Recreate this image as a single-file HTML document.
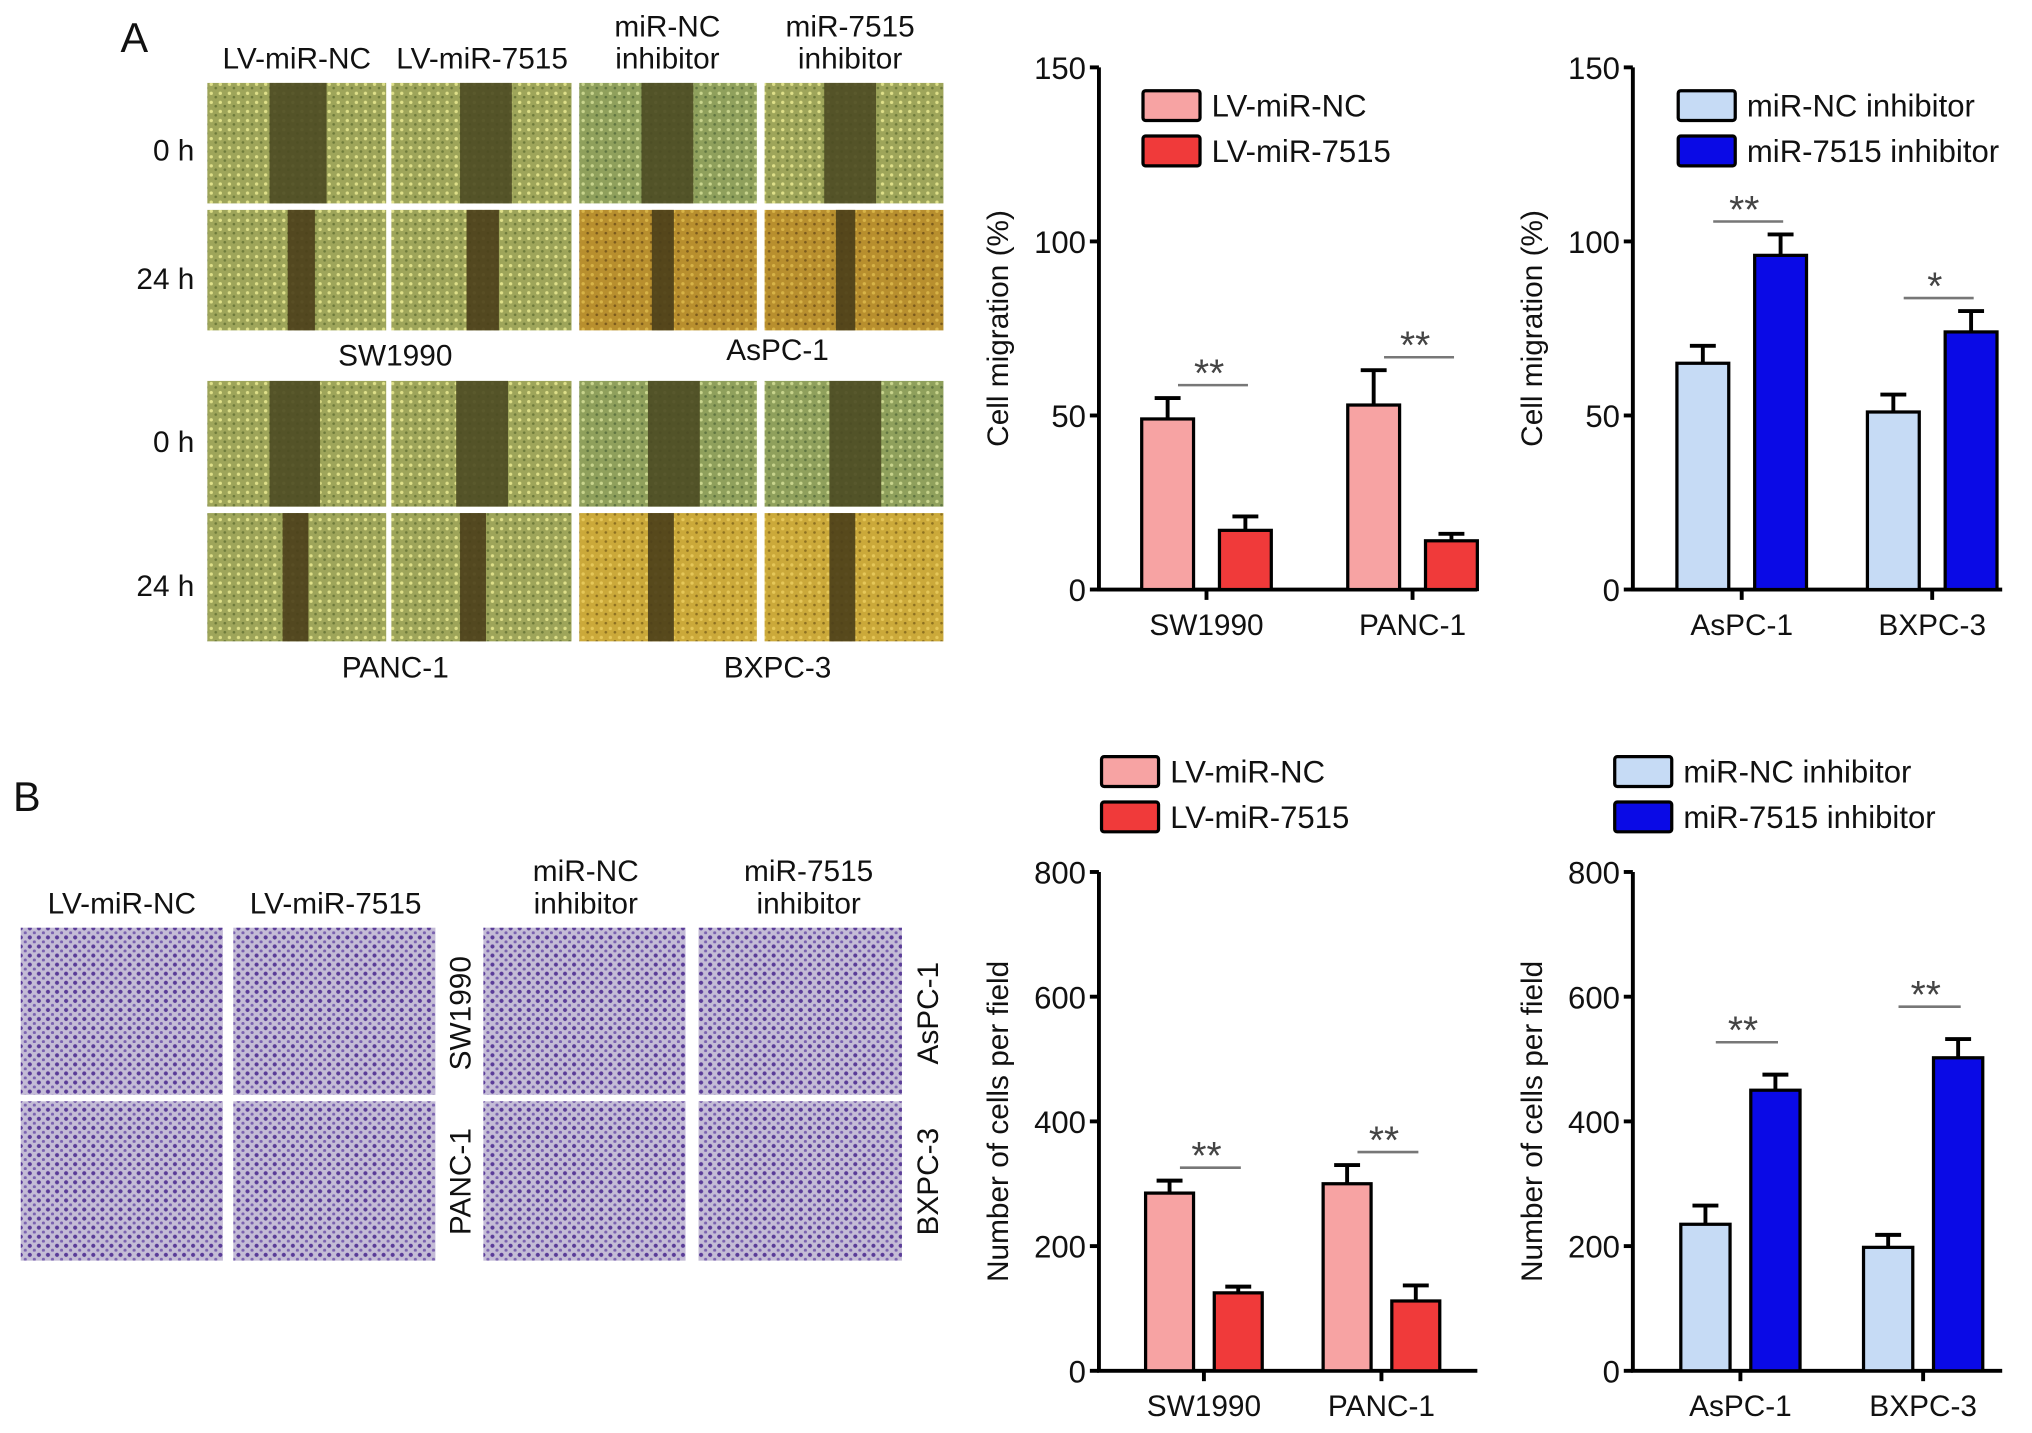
<!DOCTYPE html>
<html><head><meta charset="utf-8"><style>
html,body{margin:0;padding:0;background:#fff;}
svg{display:block;font-family:"Liberation Sans",Arial,sans-serif;}
</style></head><body>
<svg id="fig" width="2032" height="1433" viewBox="0 0 1568 1106" preserveAspectRatio="none" xmlns="http://www.w3.org/2000/svg">
<defs>
<pattern id="dotsG" width="7" height="7" patternUnits="userSpaceOnUse"><rect width="7" height="7" fill="#9ea55a"/><circle cx="2" cy="2" r="1.3" fill="#dfe08a"/><circle cx="5.5" cy="5" r="1" fill="#6d7a3a"/></pattern>
<pattern id="dotsGr" width="7" height="7" patternUnits="userSpaceOnUse"><rect width="7" height="7" fill="#8fa05c"/><circle cx="2" cy="2" r="1.3" fill="#c9d58e"/><circle cx="5.5" cy="5" r="1" fill="#5e7440"/></pattern>
<pattern id="dotsO" width="7" height="7" patternUnits="userSpaceOnUse"><rect width="7" height="7" fill="#b88f2e"/><circle cx="2" cy="2" r="1.3" fill="#d8b448"/><circle cx="5.5" cy="5" r="1" fill="#7a5a1c"/></pattern>
<pattern id="dotsY" width="7" height="7" patternUnits="userSpaceOnUse"><rect width="7" height="7" fill="#cba93a"/><circle cx="2" cy="2" r="1.3" fill="#e6c85a"/><circle cx="5.5" cy="5" r="1" fill="#8c7020"/></pattern>
<pattern id="dotsP" width="7" height="7" patternUnits="userSpaceOnUse"><rect width="7" height="7" fill="#c4bcd6"/><circle cx="2" cy="2.5" r="1.6" fill="#5a3c98"/><circle cx="5.5" cy="6" r="1.2" fill="#7a62b0"/></pattern>
</defs>
<g id="panelA"></g>
<g id="panelB"></g>
<g id="charts"></g>
</svg>
<script>
// ---------- chart data ----------
const catsA1 = ["SW1990","PANC-1"];
const ncA1 = [49, 53];
const ncA1Err = [6, 10];
const trA1 = [17, 14];
const trA1Err = [4, 2];

const catsA2 = ["AsPC-1","BXPC-3"];
const ncA2 = [65, 51];
const ncA2Err = [5, 5];
const trA2 = [96, 74];
const trA2Err = [6, 6];

const catsB1 = ["SW1990","PANC-1"];
const ncB1 = [285, 300];
const ncB1Err = [20, 30];
const trB1 = [125, 112];
const trB1Err = [10, 25];

const catsB2 = ["AsPC-1","BXPC-3"];
const ncB2 = [235, 198];
const ncB2Err = [30, 20];
const trB2 = [450, 502];
const trB2Err = [25, 30];

const ticksA = [0, 50, 100, 150];
const ticksB = [0, 200, 400, 600, 800];
const sigA1 = ["**","**"], sigA2 = ["**","*"], sigB1 = ["**","**"], sigB2 = ["**","**"];

const NS="http://www.w3.org/2000/svg";
function mk(tag, attrs, parent, text){
  const e=document.createElementNS(NS,tag);
  for(const k in attrs) e.setAttribute(k,attrs[k]);
  if(text!==undefined) e.textContent=text;
  parent.appendChild(e); return e;
}

// ---------- images panel A ----------
const pA=document.getElementById('panelA');
const colsA=[[160,298],[302,441],[447,584],[590,728]];
const rowsA=[[64,157],[162,255],[294,391],[396,495]];
const fillsA=[["url(#dotsG)","url(#dotsG)","url(#dotsGr)","url(#dotsG)"],
              ["url(#dotsG)","url(#dotsG)","url(#dotsO)","url(#dotsO)"],
              ["url(#dotsG)","url(#dotsG)","url(#dotsGr)","url(#dotsGr)"],
              ["url(#dotsG)","url(#dotsG)","url(#dotsY)","url(#dotsY)"]];
const gapsA=[[[208,252],[355,395],[495,535],[636,676]],
             [[222,243],[360,385],[503,520],[645,660]],
             [[208,247],[352,392],[500,540],[640,680]],
             [[218,238],[355,375],[500,520],[640,660]]];
rowsA.forEach((r,ri)=>colsA.forEach((c,ci)=>{
  const t=mk('rect',{x:c[0],y:r[0],width:c[1]-c[0],height:r[1]-r[0],fill:fillsA[ri][ci]},pA);
  
  
  const g=gapsA[ri][ci];
  mk('rect',{x:g[0],y:r[0],width:g[1]-g[0],height:r[1]-r[0],fill:ri%2? "#4a3e1a":"#4b4a22",opacity:0.9},pA);
}));
function txt(p,x,y,s,size,anchor,name,extra){
  const t=mk('text',Object.assign({x:x,y:y,'font-size':size||22,'text-anchor':anchor||'middle',fill:'#111'},extra||{}),p,s);
  
  
  return t;
}
txt(pA,93,40,"A",32,'start','panel-a-letter');
txt(pA,229,53,"LV-miR-NC",23,'middle','col-label-lv-mir-nc');
txt(pA,372,53,"LV-miR-7515",23,'middle','col-label-lv-mir-7515');
txt(pA,515,28,"miR-NC",23,'middle','col-label-mir-nc-inhibitor');
txt(pA,515,53,"inhibitor",23,'middle','col-label-mir-nc-inhibitor');
txt(pA,656,28,"miR-7515",23,'middle','col-label-mir-7515-inhibitor');
txt(pA,656,53,"inhibitor",23,'middle','col-label-mir-7515-inhibitor');
txt(pA,150,124,"0 h",23,'end','row-label-0h');
txt(pA,150,223,"24 h",23,'end','row-label-24h');
txt(pA,150,349,"0 h",23,'end','row-label-0h');
txt(pA,150,460,"24 h",23,'end','row-label-24h');
txt(pA,305,282,"SW1990",23,'middle','cell-line-label');
txt(pA,600,278,"AsPC-1",23,'middle','cell-line-label');
txt(pA,305,523,"PANC-1",23,'middle','cell-line-label');
txt(pA,600,523,"BXPC-3",23,'middle','cell-line-label');

// ---------- images panel B ----------
const pB=document.getElementById('panelB');
[[16,172],[180,336],[373,529],[539,696]].forEach(c=>[[716,845],[850,973]].forEach(r=>{
  const t=mk('rect',{x:c[0],y:r[0],width:c[1]-c[0],height:r[1]-r[0],fill:'url(#dotsP)'},pB);
  
  
}));
txt(pB,10,626,"B",32,'start','panel-b-letter');
txt(pB,94,705,"LV-miR-NC",23,'middle','col-label-lv-mir-nc');
txt(pB,259,705,"LV-miR-7515",23,'middle','col-label-lv-mir-7515');
txt(pB,452,680,"miR-NC",23,'middle','col-label-mir-nc-inhibitor');
txt(pB,452,705,"inhibitor",23,'middle','col-label-mir-nc-inhibitor');
txt(pB,624,680,"miR-7515",23,'middle','col-label-mir-7515-inhibitor');
txt(pB,624,705,"inhibitor",23,'middle','col-label-mir-7515-inhibitor');
txt(pB,0,0,"SW1990",23,'middle','row-label-sw1990',{transform:'translate(363,782) rotate(-90)'});
txt(pB,0,0,"PANC-1",23,'middle','row-label-panc1',{transform:'translate(363,912) rotate(-90)'});
txt(pB,0,0,"AsPC-1",23,'middle','row-label-aspc1',{transform:'translate(724,782) rotate(-90)'});
txt(pB,0,0,"BXPC-3",23,'middle','row-label-bxpc3',{transform:'translate(724,912) rotate(-90)'});

// ---------- bar charts ----------
function chart(o){
  const g=mk('g',{},document.getElementById('charts'));
  
  
  const ymax=o.ticks[o.ticks.length-1];
  const Y=v=>o.y0-(v/ymax)*(o.y0-o.yTop);
  const ya=mk('line',{x1:o.ax,y1:o.yTop,x2:o.ax,y2:o.y0,stroke:'#000','stroke-width':3},g);
   
  const xa=mk('line',{x1:o.ax-1.5,y1:o.y0,x2:o.xEnd,y2:o.y0,stroke:'#000','stroke-width':3},g);
   
  o.ticks.forEach(t=>{
    mk('line',{x1:o.ax-7,y1:Y(t),x2:o.ax,y2:Y(t),stroke:'#000','stroke-width':3},g);
    txt(g,o.ax-10,Y(t)+9,String(t),24,'end','y-tick-label');
  });
  txt(g,0,0,o.ytitle,23,'middle','y-axis-title',{transform:`translate(${o.ax-70},${(o.yTop+o.y0)/2}) rotate(-90)`});
  o.cats.forEach((c,i)=>{
    const cx=o.cx[i];
    mk('line',{x1:cx,y1:o.y0,x2:cx,y2:o.y0+8,stroke:'#000','stroke-width':3},g);
    txt(g,cx,o.y0+35,c,23,'middle','x-tick-label');
    const series=[[o.nc[i],o.ncE[i],o.c1,-1],[o.tr[i],o.trE[i],o.c2,1]];
    series.forEach(([v,e,col,side])=>{
      const x0= side<0 ? cx-o.off-o.bw : cx+o.off;
      const eb=mk('line',{x1:x0+o.bw/2,y1:Y(v),x2:x0+o.bw/2,y2:Y(v+e),stroke:'#000','stroke-width':3},g);
       
      mk('line',{x1:x0+o.bw/2-10,y1:Y(v+e),x2:x0+o.bw/2+10,y2:Y(v+e),stroke:'#000','stroke-width':3},g);
      const b=mk('rect',{x:x0,y:Y(v),width:o.bw,height:o.y0-Y(v),fill:col,stroke:'#000','stroke-width':2.5},g);
       
    });
    const top=Math.max(o.nc[i]+o.ncE[i],o.tr[i]+o.trE[i]);
    const sy=Y(top)-o.sigGap;
    const sl=mk('line',{x1:cx-o.off-o.bw/2+8,y1:sy,x2:cx+o.off+o.bw/2+2,y2:sy,stroke:'#777','stroke-width':2},g);
     
    txt(g,cx+2,sy+1,o.sig[i],30,'middle','significance-stars',{fill:'#444'});
  });
  [[o.c1,o.l1],[o.c2,o.l2]].forEach(([col,l],k)=>{
    const ly=o.legY+k*35;
    const r=mk('rect',{x:o.legX,y:ly,width:44,height:23,fill:col,stroke:'#000','stroke-width':2.5,rx:2},g);
     
    txt(g,o.legX+53,ly+20,l,24,'start','legend-entry');
  });
}
const pink="#f7a3a3", red="#f03a3a", lblue="#c6dbf5", blue="#0a0ae6";
chart({name:'chart-a-migration-lv',cats:catsA1,nc:ncA1,ncE:ncA1Err,tr:trA1,trE:trA1Err,ticks:ticksA,sig:sigA1,
  ax:848,yTop:52,y0:455,xEnd:1140,cx:[931,1090],off:10,bw:40,c1:pink,c2:red,
  l1:'LV-miR-NC',l2:'LV-miR-7515',legX:882,legY:70,ytitle:'Cell migration (%)',sigGap:10});
chart({name:'chart-a-migration-inhibitor',cats:catsA2,nc:ncA2,ncE:ncA2Err,tr:trA2,trE:trA2Err,ticks:ticksA,sig:sigA2,
  ax:1260,yTop:52,y0:455,xEnd:1545,cx:[1344,1491],off:10,bw:40,c1:lblue,c2:blue,
  l1:'miR-NC inhibitor',l2:'miR-7515 inhibitor',legX:1295,legY:70,ytitle:'Cell migration (%)',sigGap:10});
chart({name:'chart-b-invasion-lv',cats:catsB1,nc:ncB1,ncE:ncB1Err,tr:trB1,trE:trB1Err,ticks:ticksB,sig:sigB1,
  ax:848,yTop:673,y0:1058,xEnd:1140,cx:[929,1066],off:8,bw:37,c1:pink,c2:red,
  l1:'LV-miR-NC',l2:'LV-miR-7515',legX:850,legY:584,ytitle:'Number of cells per field',sigGap:10});
chart({name:'chart-b-invasion-inhibitor',cats:catsB2,nc:ncB2,ncE:ncB2Err,tr:trB2,trE:trB2Err,ticks:ticksB,sig:sigB2,
  ax:1260,yTop:673,y0:1058,xEnd:1545,cx:[1343,1484],off:8,bw:38,c1:lblue,c2:blue,
  l1:'miR-NC inhibitor',l2:'miR-7515 inhibitor',legX:1246,legY:584,ytitle:'Number of cells per field',sigGap:25});
</script>
</body></html>
